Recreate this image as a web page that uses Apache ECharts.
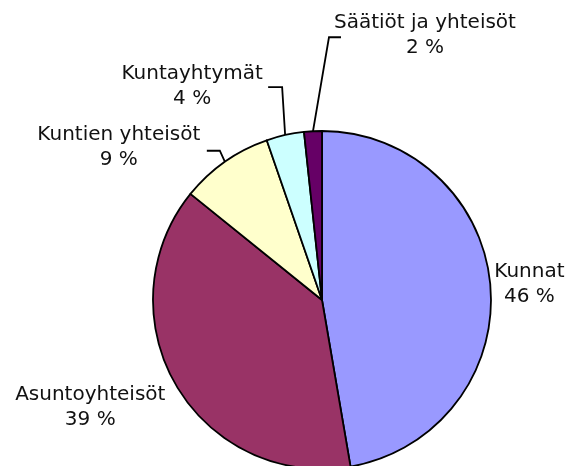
<!doctype html>
<html>
<head>
    <meta charset="utf-8">
    <title>Omistajat</title>
    <script src="https://cdn.jsdelivr.net/npm/echarts@6/dist/echarts.min.js"></script>
</head>
<body style="margin:0;background:#fff;">
    <div id="container" style="width:570px;height:466px;"></div>
    <script type="text/javascript">
        // data
        var names = ['Kunnat', 'Asuntoyhteisöt', 'Kuntien yhteisöt', 'Kuntayhtymät', 'Säätiöt ja yhteisöt'];
        var shares = [47.3, 38.5, 8.9, 3.6, 1.7];
        var pctLabels = ['46 %', '39 %', '9 %', '4 %', '2 %'];
        var colors = ['#9999ff', '#993366', '#ffffcc', '#ccffff', '#660066'];

        // label placement relative to the slice edge point (mid angle)
        var labelOffset = [[39, -1], [-86, 22], [-106, -14], [-93, -49], [112, -96]];
        var lineBend = [null, null, [[-5, -11], [-18, -11]], [[-3, -48], [-17, -48]], [[16, -94], [28, -94]]];

        var myChart = echarts.init(document.getElementById('container'));

        function edgePoint(idx) {
            var lay = myChart.getModel().getSeriesByIndex(0).getData().getItemLayout(idx);
            var mid = (lay.startAngle + lay.endAngle) / 2;
            return [lay.cx + lay.r * Math.cos(mid), lay.cy + lay.r * Math.sin(mid)];
        }

        var pieData = [];
        for (var i = 0; i < names.length; i++) {
            pieData.push({
                name: names[i],
                value: shares[i],
                itemStyle: { color: colors[i] },
                labelLine: { show: lineBend[i] != null }
            });
        }

        var option = {
            backgroundColor: '#ffffff',
            animation: false,
            series: [{
                type: 'pie',
                center: [322, 300],
                radius: 169,
                startAngle: 90,
                clockwise: true,
                avoidLabelOverlap: false,
                itemStyle: { borderColor: '#000', borderWidth: 1.8 },
                label: {
                    show: true,
                    position: 'outside',
                    color: '#111',
                    fontFamily: 'DejaVu Sans',
                    fontSize: 20,
                    lineHeight: 25,
                    align: 'center',
                    formatter: function (p) {
                        return names[p.dataIndex] + '\n' + pctLabels[p.dataIndex];
                    }
                },
                labelLine: {
                    length: 10,
                    length2: 10,
                    lineStyle: { color: '#000', width: 1.8 }
                },
                labelLayout: function (params) {
                    var i = params.dataIndex;
                    var p0 = edgePoint(i);
                    var res = {
                        x: p0[0] + labelOffset[i][0],
                        y: p0[1] + labelOffset[i][1],
                        align: 'center',
                        verticalAlign: 'middle'
                    };
                    if (lineBend[i]) {
                        res.labelLinePoints = [
                            p0,
                            [p0[0] + lineBend[i][0][0], p0[1] + lineBend[i][0][1]],
                            [p0[0] + lineBend[i][1][0], p0[1] + lineBend[i][1][1]]
                        ];
                    }
                    return res;
                },
                data: pieData
            }]
        };
        myChart.setOption(option);
    </script>
</body>
</html>
